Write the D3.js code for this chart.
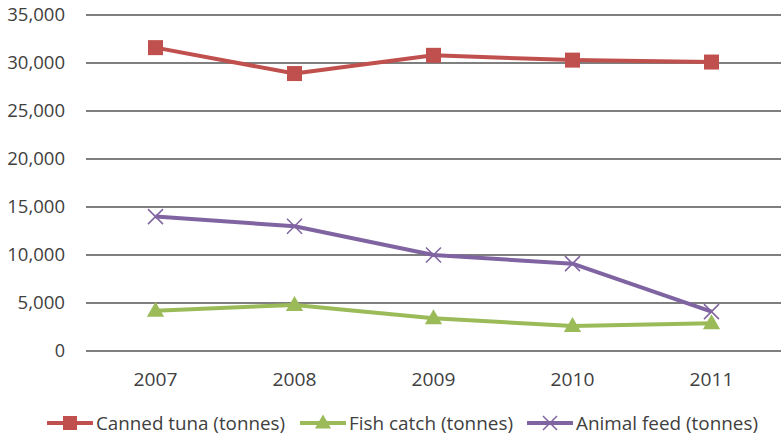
<!DOCTYPE html>
<html><head><meta charset="utf-8">
<script src="https://cdn.jsdelivr.net/npm/d3@7"></script>
<style>body{margin:0;background:#fff}svg{display:block}text{font-family:"Open Sans",sans-serif;fill:#404040}</style>
</head><body><svg id="c" width="781" height="439"></svg>
<script>
const years = ["2007","2008","2009","2010","2011"];
const cannedTuna = [31600, 28900, 30800, 30300, 30100];
const fishCatch = [4200, 4800, 3400, 2600, 2900];
const animalFeed = [14000, 13000, 10000, 9100, 4100];
const yTicks = [0, 5000, 10000, 15000, 20000, 25000, 30000, 35000];
const seriesNames = ["Canned tuna (tonnes)", "Fish catch (tonnes)", "Animal feed (tonnes)"];

const series = [
  {name: seriesNames[0], values: cannedTuna, color: "#C0504D", marker: "square"},
  {name: seriesNames[1], values: fishCatch, color: "#9BBB59", marker: "triangle"},
  {name: seriesNames[2], values: animalFeed, color: "#8064A2", marker: "x"}
];

const svg = d3.select("#c");
const x = d3.scaleBand().domain(years).range([86, 781]);
const y = d3.scaleLinear().domain([0, 35000]).range([351, 15]);
const fmt = d3.format(",");

svg.append("g").selectAll("line").data(yTicks).join("line")
  .attr("x1", 86).attr("x2", 781)
  .attr("y1", d => y(d)).attr("y2", d => y(d))
  .attr("stroke", "#7f7f7f").attr("stroke-width", 2);

svg.append("g").selectAll("text").data(yTicks).join("text")
  .attr("x", 65).attr("y", d => y(d)).attr("dy", "0.36em")
  .attr("text-anchor", "end").attr("font-size", 18)
  .attr("textLength", d => fmt(d).length * 10.3 - (d >= 1000 ? 4 : 0)).attr("lengthAdjust", "spacingAndGlyphs")
  .text(d => fmt(d));

svg.append("g").selectAll("text").data(years).join("text")
  .attr("x", d => x(d) + x.bandwidth()/2).attr("y", 380).attr("dy", "0.36em")
  .attr("text-anchor", "middle").attr("font-size", 18)
  .attr("textLength", 44).attr("lengthAdjust", "spacingAndGlyphs").text(d => d);

function drawMarker(g, type, color, cx, cy, s) {
  if (type === "square") {
    g.append("rect").attr("x", cx - s).attr("y", cy - s).attr("width", 2*s).attr("height", 2*s).attr("fill", color);
  } else if (type === "triangle") {
    g.append("path").attr("d", `M${cx},${cy - s*1.2}L${cx + s*1.15},${cy + s*0.8}L${cx - s*1.15},${cy + s*0.8}Z`).attr("fill", color);
  } else {
    g.append("path").attr("d", `M${cx - s},${cy - s}L${cx + s},${cy + s}M${cx - s},${cy + s}L${cx + s},${cy - s}`)
      .attr("stroke", color).attr("stroke-width", 1.5).attr("fill", "none");
  }
}

const line = d3.line().x((d, i) => x(years[i]) + x.bandwidth()/2).y(d => y(d));
series.forEach(s => {
  const g = svg.append("g");
  g.append("path").datum(s.values).attr("d", line)
    .attr("fill", "none").attr("stroke", s.color).attr("stroke-width", 4).attr("stroke-linejoin", "round");
  s.values.forEach((v, i) => drawMarker(g, s.marker, s.color, x(years[i]) + x.bandwidth()/2, y(v), 7.5));
});

const legX = [47, 300, 527];
const legW = [189, 164, 182];
series.forEach((s, i) => {
  const g = svg.append("g");
  g.append("line").attr("x1", legX[i]).attr("x2", legX[i] + 46).attr("y1", 423).attr("y2", 423)
    .attr("stroke", s.color).attr("stroke-width", 4);
  drawMarker(g, s.marker, s.color, legX[i] + 23, 423, 7);
  g.append("text").attr("x", legX[i] + 49).attr("y", 423).attr("dy", "0.36em")
    .attr("font-size", 19).attr("textLength", legW[i]).attr("lengthAdjust", "spacingAndGlyphs").text(s.name);
});
</script></body></html>
